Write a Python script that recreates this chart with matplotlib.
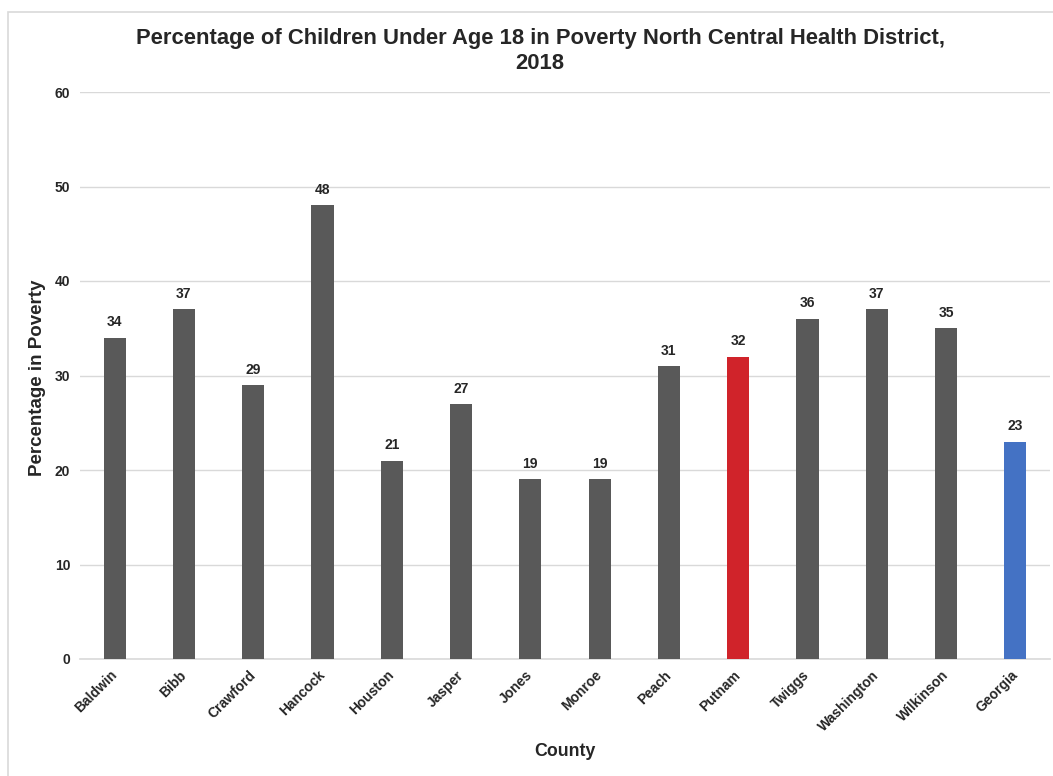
import matplotlib
matplotlib.use("Agg")
import matplotlib.pyplot as plt
from matplotlib.patches import Rectangle

plt.rcParams['font.family'] = ['Liberation Sans', 'DejaVu Sans']

counties = ["Baldwin", "Bibb", "Crawford", "Hancock", "Houston", "Jasper", "Jones",
            "Monroe", "Peach", "Putnam", "Twiggs", "Washington", "Wilkinson", "Georgia"]
poverty_pct = [34, 37, 29, 48, 21, 27, 19, 19, 31, 32, 36, 37, 35, 23]
highlight = {"Putnam": "#D0232A", "Georgia": "#4472C4"}
base_color = "#595959"
yticks = [0, 10, 20, 30, 40, 50, 60]

W, H = 1053, 776
fig = plt.figure(figsize=(W / 100, H / 100), dpi=100)
fig.patch.set_facecolor("white")

# chart frame
fig.patches.append(Rectangle((8 / W, -0.05), 1.2, 1 - 12 / H + 0.05,
                             transform=fig.transFigure, fill=False,
                             edgecolor="#D9D9D9", linewidth=1.2))

ax = fig.add_axes([80 / W, 1 - 659 / H, (1050 - 80) / W, (659 - 92) / H])
x = list(range(len(counties)))
colors = [highlight.get(c, base_color) for c in counties]
bars = ax.bar(x, poverty_pct, width=0.32, color=colors, zorder=3)

ax.set_xlim(-0.5, len(counties) - 0.5)
ax.set_ylim(0, 60)
ax.set_yticks(yticks)
ax.set_yticklabels([str(t) for t in yticks], fontsize=10, fontweight="bold", color="#262626")
ax.yaxis.grid(True, color="#D9D9D9", linewidth=1, zorder=0)
ax.tick_params(axis="y", length=0, pad=7)
ax.tick_params(axis="x", length=0, pad=10)
for s in ["top", "right", "left"]:
    ax.spines[s].set_visible(False)
ax.spines["bottom"].set_color("#D9D9D9")
ax.spines["bottom"].set_linewidth(1.2)

ax.set_xticks(x)
ax.set_xticklabels(counties, rotation=45, ha="right", va="center",
                   rotation_mode="anchor", fontsize=10, fontweight="bold", color="#262626")

for rect, v in zip(bars, poverty_pct):
    ax.annotate(str(v), (rect.get_x() + rect.get_width() / 2, v),
                xytext=(0, 6), textcoords="offset points", ha="center", va="bottom",
                fontsize=10, fontweight="bold", color="#262626")

fig.text(38 / W, 1 - 378 / H, "Percentage in Poverty", rotation=90,
         ha="center", va="center", fontsize=13.5, fontweight="bold", color="#262626")
fig.text(565 / W, 1 - 751 / H, "County",
         ha="center", va="center", fontsize=12.8, fontweight="bold", color="#262626")

fig.text(540 / W, 1 - 51 / H,
         "Percentage of Children Under Age 18 in Poverty North Central Health District,\n2018",
         ha="center", va="center", fontsize=15.8, fontweight="bold", color="#262626",
         linespacing=1.22)

fig.savefig("out.png", dpi=100, facecolor="white")
